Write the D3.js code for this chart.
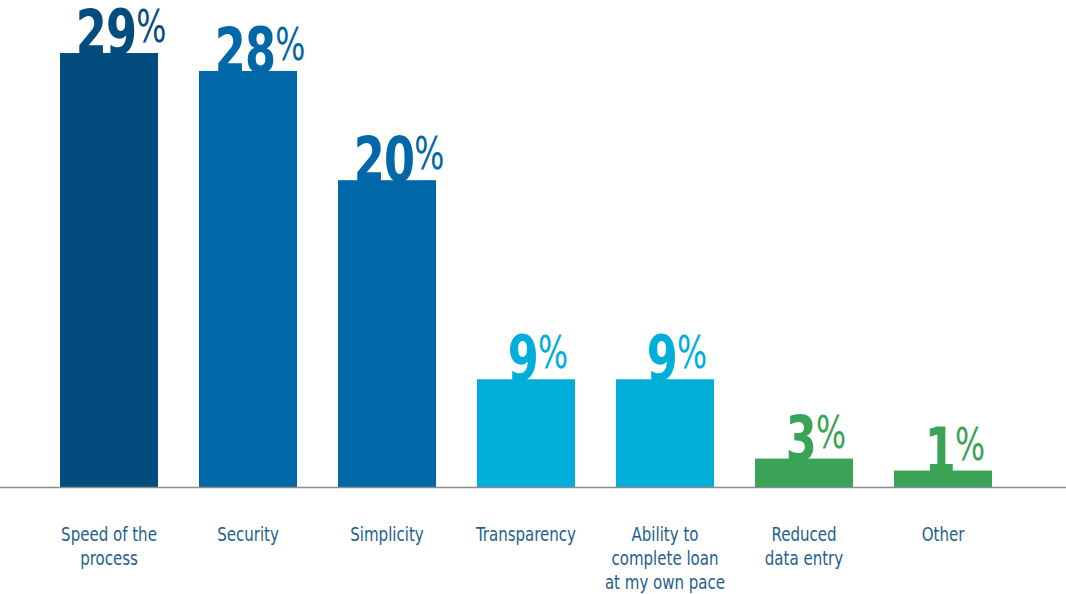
<!DOCTYPE html>
<html>
<head>
<meta charset="utf-8">
<script src="https://d3js.org/d3.v7.min.js"></script>
<style>
  body { margin: 0; background: #fff; }
  svg { display: block; }
  text { font-family: "Liberation Sans Narrow", "DejaVu Sans Condensed", "Roboto Condensed", sans-serif; }
</style>
</head>
<body>
<svg width="1066" height="594"></svg>

<script>

  // Categories, wrapped the way the original prints them
  const categories = [
    ['Speed of the', 'process'],
    ['Security'],
    ['Simplicity'],
    ['Transparency'],
    ['Ability to', 'complete loan', 'at my own pace'],
    ['Reduced', 'data entry'],
    ['Other']
  ];

  // Printed percentages
  const shares = [29, 28, 20, 9, 9, 3, 1];

  // Bar lengths as drawn (the original isn't strictly proportional)
  const barValues = [29, 27.8, 20.5, 7.2, 7.2, 1.9, 1.1];

  const colors = ['#024d7e', '#0067a8', '#0067a8', '#00aed9', '#00aed9', '#3ba356', '#3ba356'];

  const svg = d3.select('svg');
  const base = 487;

  const x = d3.scaleBand()
    .domain(d3.range(categories.length))
    .range([39.5, 1012.5])
    .paddingInner(0.295)
    .paddingOuter(0.1475);

  const y = d3.scaleLinear()
    .domain([0, 29])
    .range([base, 53]);

  // Bars
  svg.selectAll('rect.bar')
    .data(barValues)
    .join('rect')
    .attr('class', 'bar')
    .attr('x', (d, i) => x(i))
    .attr('y', d => y(d))
    .attr('width', x.bandwidth())
    .attr('height', d => base - y(d))
    .style('fill', (d, i) => colors[i]);

  // Baseline
  svg.append('line')
    .attr('x1', 0)
    .attr('x2', 1066)
    .attr('y1', base + 0.5)
    .attr('y2', base + 0.5)
    .attr('stroke', '#8c8c8c')
    .attr('stroke-width', 1.5);

  // Value labels: big bold number with a raised, lighter percent sign.
  // squeezed horizontally to get the condensed look of the original face
  const vals = svg.selectAll('g.val')
    .data(shares)
    .join('g')
    .attr('class', 'val')
    .attr('transform', (d, i) =>
      'translate(' + (x(i) + x.bandwidth() / 2 + 12) + ',' + (y(barValues[i]) + 1) + ') scale(0.8,1)')
    .append('text')
    .attr('text-anchor', 'middle')
    .style('fill', (d, i) => colors[i]);

  vals.append('tspan')
    .style('font-size', '62px')
    .style('font-weight', 'bold')
    .style('letter-spacing', '-1px')
    .text(d => d);

  vals.append('tspan')
    .attr('dy', -12)
    .style('font-size', '44px')
    .text('%');

  // Category labels
  const cats = svg.selectAll('g.cat')
    .data(categories)
    .join('g')
    .attr('class', 'cat')
    .attr('transform', (d, i) => 'translate(' + (x(i) + x.bandwidth() / 2) + ',0) scale(0.88,1)')
    .append('text')
    .attr('text-anchor', 'middle')
    .style('font-size', '19px')
    .style('fill', '#245f8c');

  cats.selectAll('tspan')
    .data(d => d)
    .join('tspan')
    .attr('x', 0)
    .attr('y', (d, j) => 541 + j * 24)
    .text(d => d);

</script>
</body>
</html>
